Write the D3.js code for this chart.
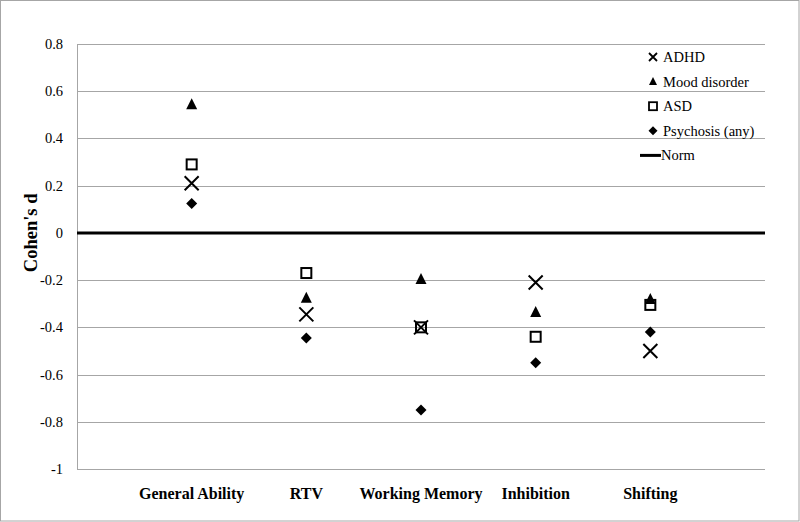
<!DOCTYPE html>
<html lang="en">
<head>
  <meta charset="UTF-8">
  <title>Cohen's d by domain</title>
  <style>
    html, body { margin: 0; padding: 0; background: #fff; overflow: hidden; }
    svg { display: block; }
    svg text { font-family: "Liberation Serif", serif; }
  </style>
</head>
<body>
<svg width="800" height="522"></svg>
<script src="https://d3js.org/d3.v7.min.js"></script>
<script>
const categories = ["General Ability", "RTV", "Working Memory", "Inhibition", "Shifting"];
const groups = ["ADHD", "Mood disorder", "ASD", "Psychosis (any)"];
const adhd = [0.21, -0.345, -0.40, -0.21, -0.50];
const mood = [0.545, -0.275, -0.195, -0.335, -0.28];
const asd = [0.29, -0.17, -0.40, -0.44, -0.305];
const psychosis = [0.125, -0.445, -0.75, -0.55, -0.42];
const yTicks = [0.8, 0.6, 0.4, 0.2, 0, -0.2, -0.4, -0.6, -0.8, -1];

const svg = d3.select("svg");
const W = 800, H = 522;
const m = { left: 77, right: 765, top: 44, bottom: 469 };

// outer frame
svg.append("rect")
  .attr("x", 0.5).attr("y", 0.5)
  .attr("width", W - 1.5).attr("height", H - 1.5)
  .attr("fill", "#fff").attr("stroke", "#a6a6a6");

const x = d3.scaleLinear().domain([0, categories.length + 1]).range([m.left, m.right]);
const y = d3.scaleLinear().domain([-1, 0.8]).range([m.bottom, m.top]);

// gridlines
svg.append("g").selectAll("line")
  .data(yTicks.filter(t => t !== 0))
  .enter().append("line")
  .attr("x1", m.left).attr("x2", m.right)
  .attr("y1", d => Math.round(y(d)) + 0.5).attr("y2", d => Math.round(y(d)) + 0.5)
  .attr("stroke", "#a6a6a6").attr("stroke-width", 1);

// left axis line
svg.append("line")
  .attr("x1", m.left + 0.5).attr("x2", m.left + 0.5)
  .attr("y1", m.top).attr("y2", m.bottom + 0.5)
  .attr("stroke", "#a6a6a6");

// tick labels (plain hyphen for minus, like the original)
svg.append("g").selectAll("text")
  .data(yTicks)
  .enter().append("text")
  .attr("x", 63).attr("y", d => y(d) + 5)
  .attr("text-anchor", "end")
  .attr("font-size", 14.5)
  .text(d => String(d));

// norm line
svg.append("line")
  .attr("x1", m.left).attr("x2", m.right)
  .attr("y1", y(0)).attr("y2", y(0))
  .attr("stroke", "#000").attr("stroke-width", 3);

// category labels
svg.append("g").selectAll("text")
  .data(categories)
  .enter().append("text")
  .attr("x", (d, i) => x(i + 1)).attr("y", 499)
  .attr("text-anchor", "middle")
  .attr("font-size", 16).attr("font-weight", "bold")
  .text(d => d);

// y title
svg.append("text")
  .attr("transform", `translate(37,${y(0)}) rotate(-90)`)
  .attr("text-anchor", "middle")
  .attr("font-size", 18.5).attr("font-weight", "bold")
  .text("Cohen's d");

// marker drawers
function drawMarker(g, type) {
  if (type === "ADHD") {
    g.append("path").attr("d", "M-7,-7L7,7M-7,7L7,-7")
      .attr("stroke", "#000").attr("stroke-width", 2).attr("fill", "none");
  } else if (type === "Mood disorder") {
    g.append("path").attr("d", "M0,-6L5.5,5L-5.5,5Z").attr("fill", "#000");
  } else if (type === "ASD") {
    g.append("rect").attr("x", -5).attr("y", -5).attr("width", 10).attr("height", 10)
      .attr("fill", "#fff").attr("stroke", "#000").attr("stroke-width", 2);
  } else {
    g.append("path").attr("d", "M0,-5.5L5.5,0L0,5.5L-5.5,0Z").attr("fill", "#000");
  }
}

const series = [
  { name: "ASD", values: asd },
  { name: "Mood disorder", values: mood },
  { name: "Psychosis (any)", values: psychosis },
  { name: "ADHD", values: adhd }
];

series.forEach(s => {
  s.values.forEach((v, i) => {
    const g = svg.append("g").attr("transform", `translate(${x(i + 1)},${y(v)})`);
    if (s.name === "ASD" && i === 2) {
      // square drawn without fill so the cross shows through
      g.append("rect").attr("x", -5).attr("y", -5).attr("width", 10).attr("height", 10)
        .attr("fill", "none").attr("stroke", "#000").attr("stroke-width", 2);
    } else {
      drawMarker(g, s.name);
    }
  });
});

// legend
const legend = svg.append("g").attr("transform", "translate(653,57)");
groups.forEach((gname, i) => {
  const row = legend.append("g").attr("transform", `translate(0,${i * 24.6})`);
  const mk = row.append("g");
  if (gname === "ADHD") {
    mk.append("path").attr("d", "M-4,-4L4,4M-4,4L4,-4")
      .attr("stroke", "#000").attr("stroke-width", 1.8);
  } else if (gname === "Mood disorder") {
    mk.append("path").attr("d", "M0,-4.5L4,3.5L-4,3.5Z").attr("fill", "#000");
  } else if (gname === "ASD") {
    mk.append("rect").attr("x", -4).attr("y", -4).attr("width", 8).attr("height", 8)
      .attr("fill", "#fff").attr("stroke", "#000").attr("stroke-width", 1.8);
  } else {
    mk.append("path").attr("d", "M0,-4.5L4.5,0L0,4.5L-4.5,0Z").attr("fill", "#000");
  }
  row.append("text").attr("x", 10).attr("y", 5)
    .attr("font-size", 14.5).text(gname);
});
const normRow = legend.append("g").attr("transform", `translate(0,${4 * 24.6})`);
normRow.append("line").attr("x1", -13).attr("x2", 8).attr("y1", 0).attr("y2", 0)
  .attr("stroke", "#000").attr("stroke-width", 3);
normRow.append("text").attr("x", 8).attr("y", 5).attr("font-size", 14.5).text("Norm");
</script>
</body>
</html>
